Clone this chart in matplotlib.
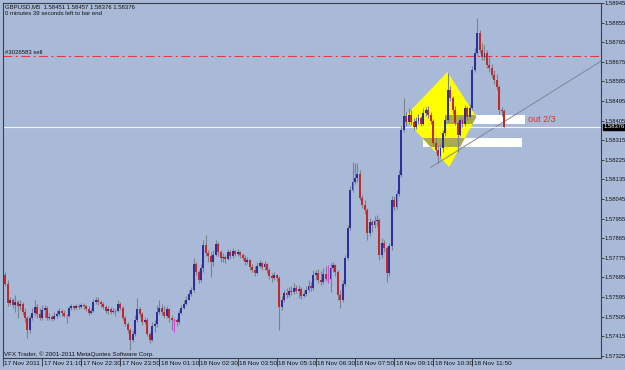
import matplotlib
matplotlib.use("Agg")
import matplotlib.pyplot as plt
from matplotlib.patches import Polygon, Rectangle
from matplotlib import transforms as mtrans

# ---------------- data ----------------
header_line1 = "GBPUSD,M5  1.58451 1.58457 1.58376 1.58376"
header_line2 = "0 minutes 39 seconds left to bar end"
order_label = "#3026583 sell"
copyright_text = "VFX Trader, \u00a9 2001-2011 MetaQuotes Software Corp."
out_label = "out 2/3"

opens = [
 1.57696,1.57655,1.57568,1.57581,1.57558,1.57572,1.57554,1.57563,1.57526,1.57499,
 1.57444,1.57499,1.57522,1.57549,1.57517,1.57499,1.57536,1.57545,1.57499,1.57503,
 1.57494,1.57508,1.57517,1.57531,1.57522,1.57508,1.57508,1.57545,1.57554,1.57545,
 1.57554,1.57549,1.57558,1.57554,1.57540,1.57522,1.57531,1.57572,1.57581,1.57572,
 1.57563,1.57549,1.57531,1.57540,1.57526,1.57531,1.57531,1.57563,1.57545,1.57499,
 1.57471,1.57444,1.57398,1.57425,1.57490,1.57540,1.57517,1.57480,1.57490,1.57425,
 1.57398,1.57462,1.57471,1.57526,1.57545,1.57526,1.57508,1.57540,1.57499,1.57490,
 1.57490,1.57480,1.57522,1.57545,1.57563,1.57581,1.57609,1.57627,1.57747,1.57710,
 1.57673,1.57728,1.57834,1.57797,1.57783,1.57756,1.57788,1.57839,1.57802,1.57774,
 1.57779,1.57770,1.57802,1.57783,1.57806,1.57793,1.57802,1.57788,1.57774,1.57756,
 1.57765,1.57733,1.57719,1.57705,1.57738,1.57751,1.57733,1.57747,1.57719,1.57692,
 1.57682,1.57696,1.57682,1.57549,1.57581,1.57614,1.57604,1.57623,1.57618,1.57636,
 1.57623,1.57632,1.57600,1.57609,1.57627,1.57646,1.57636,1.57696,1.57705,1.57673,
 1.57664,1.57701,1.57678,1.57678,1.57728,1.57742,1.57710,1.57604,1.57581,1.57655,
 1.57774,1.57912,1.58087,1.58123,1.58141,1.58160,1.58050,1.58018,1.57995,1.57889,
 1.57940,1.57926,1.57944,1.57949,1.57788,1.57843,1.57820,1.57705,1.57829,1.58041,
 1.58009,1.58068,1.58155,1.58362,1.58426,1.58399,1.58431,1.58399,1.58376,1.58403,
 1.58417,1.58390,1.58440,1.58454,1.58431,1.58403,1.58302,1.58270,1.58243,1.58279,
 1.58348,1.58408,1.58546,1.58509,1.58454,1.58394,1.58339,1.58408,1.58390,1.58463,
 1.58422,1.58463,1.58638,1.58715,1.58807,1.58729,1.58697,1.58715,1.58661,1.58647,
 1.58615,1.58592,1.58560,1.58454,1.58451]

highs = [
 1.57710,1.57673,1.57595,1.57591,1.57604,1.57581,1.57581,1.57572,1.57545,1.57508,
 1.57513,1.57545,1.57581,1.57563,1.57545,1.57558,1.57558,1.57554,1.57522,1.57513,
 1.57526,1.57536,1.57545,1.57540,1.57536,1.57517,1.57554,1.57563,1.57558,1.57563,
 1.57563,1.57568,1.57568,1.57558,1.57554,1.57545,1.57586,1.57595,1.57595,1.57581,
 1.57572,1.57558,1.57554,1.57549,1.57545,1.57540,1.57581,1.57572,1.57554,1.57508,
 1.57480,1.57453,1.57444,1.57513,1.57591,1.57549,1.57526,1.57503,1.57499,1.57434,
 1.57480,1.57490,1.57558,1.57581,1.57563,1.57554,1.57554,1.57545,1.57513,1.57499,
 1.57499,1.57536,1.57558,1.57581,1.57600,1.57627,1.57641,1.57774,1.57756,1.57719,
 1.57747,1.57857,1.57880,1.57811,1.57802,1.57811,1.57857,1.57848,1.57811,1.57797,
 1.57788,1.57815,1.57811,1.57820,1.57811,1.57815,1.57806,1.57797,1.57788,1.57779,
 1.57770,1.57747,1.57738,1.57756,1.57765,1.57756,1.57760,1.57751,1.57728,1.57705,
 1.57710,1.57701,1.57692,1.57600,1.57627,1.57636,1.57641,1.57646,1.57659,1.57650,
 1.57650,1.57641,1.57627,1.57646,1.57673,1.57664,1.57719,1.57719,1.57724,1.57715,
 1.57728,1.57738,1.57742,1.57751,1.57756,1.57747,1.57719,1.57627,1.57673,1.57788,
 1.57926,1.58105,1.58215,1.58211,1.58211,1.58178,1.58064,1.58041,1.58004,1.57958,
 1.57949,1.57967,1.57972,1.57958,1.57866,1.57857,1.57829,1.57843,1.58059,1.58059,
 1.58087,1.58178,1.58380,1.58509,1.58445,1.58463,1.58454,1.58417,1.58422,1.58436,
 1.58426,1.58463,1.58468,1.58472,1.58445,1.58413,1.58325,1.58293,1.58298,1.58362,
 1.58422,1.58624,1.58564,1.58518,1.58472,1.58403,1.58422,1.58417,1.58477,1.58472,
 1.58482,1.58656,1.58738,1.58876,1.58821,1.58761,1.58752,1.58729,1.58697,1.58665,
 1.58638,1.58619,1.58569,1.58468,1.58457]

lows = [
 1.57646,1.57554,1.57558,1.57545,1.57526,1.57499,1.57536,1.57513,1.57480,1.57407,
 1.57430,1.57490,1.57508,1.57499,1.57490,1.57490,1.57503,1.57490,1.57490,1.57485,
 1.57490,1.57499,1.57508,1.57508,1.57503,1.57476,1.57503,1.57536,1.57536,1.57540,
 1.57540,1.57545,1.57540,1.57531,1.57513,1.57517,1.57526,1.57563,1.57558,1.57549,
 1.57540,1.57522,1.57517,1.57517,1.57522,1.57508,1.57526,1.57536,1.57490,1.57462,
 1.57430,1.57352,1.57389,1.57416,1.57480,1.57503,1.57467,1.57471,1.57416,1.57384,
 1.57393,1.57434,1.57457,1.57517,1.57513,1.57499,1.57499,1.57480,1.57444,1.57434,
 1.57462,1.57471,1.57517,1.57540,1.57558,1.57581,1.57600,1.57618,1.57696,1.57659,
 1.57664,1.57710,1.57783,1.57756,1.57687,1.57738,1.57783,1.57783,1.57756,1.57756,
 1.57751,1.57765,1.57770,1.57774,1.57783,1.57783,1.57774,1.57765,1.57742,1.57747,
 1.57719,1.57710,1.57692,1.57701,1.57728,1.57719,1.57719,1.57705,1.57678,1.57664,
 1.57673,1.57669,1.57444,1.57536,1.57572,1.57591,1.57595,1.57604,1.57609,1.57614,
 1.57591,1.57586,1.57595,1.57600,1.57618,1.57623,1.57627,1.57673,1.57659,1.57650,
 1.57655,1.57669,1.57659,1.57618,1.57710,1.57692,1.57581,1.57545,1.57572,1.57646,
 1.57765,1.57903,1.58077,1.58114,1.58123,1.58041,1.58004,1.57976,1.57857,1.57875,
 1.57894,1.57912,1.57921,1.57765,1.57774,1.57802,1.57664,1.57692,1.57811,1.57995,
 1.58000,1.58059,1.58146,1.58353,1.58380,1.58390,1.58385,1.58362,1.58367,1.58390,
 1.58380,1.58385,1.58426,1.58417,1.58390,1.58289,1.58256,1.58211,1.58234,1.58261,
 1.58334,1.58399,1.58495,1.58436,1.58385,1.58261,1.58334,1.58376,1.58380,1.58408,
 1.58413,1.58454,1.58628,1.58706,1.58715,1.58683,1.58683,1.58647,1.58628,1.58601,
 1.58573,1.58546,1.58436,1.58426,1.58376]

closes = [
 1.57655,1.57568,1.57581,1.57558,1.57572,1.57554,1.57563,1.57526,1.57499,1.57444,
 1.57499,1.57522,1.57549,1.57517,1.57499,1.57536,1.57545,1.57499,1.57503,1.57494,
 1.57508,1.57517,1.57531,1.57522,1.57508,1.57508,1.57545,1.57554,1.57545,1.57554,
 1.57549,1.57558,1.57554,1.57540,1.57522,1.57531,1.57572,1.57581,1.57572,1.57563,
 1.57549,1.57531,1.57540,1.57526,1.57531,1.57531,1.57563,1.57545,1.57499,1.57471,
 1.57444,1.57398,1.57425,1.57490,1.57540,1.57517,1.57480,1.57490,1.57425,1.57398,
 1.57462,1.57471,1.57526,1.57545,1.57526,1.57508,1.57540,1.57499,1.57490,1.57490,
 1.57480,1.57522,1.57545,1.57563,1.57581,1.57609,1.57627,1.57747,1.57710,1.57673,
 1.57728,1.57834,1.57797,1.57783,1.57756,1.57788,1.57839,1.57802,1.57774,1.57779,
 1.57770,1.57802,1.57783,1.57806,1.57793,1.57802,1.57788,1.57774,1.57756,1.57765,
 1.57733,1.57719,1.57705,1.57738,1.57751,1.57733,1.57747,1.57719,1.57692,1.57682,
 1.57696,1.57682,1.57549,1.57581,1.57614,1.57604,1.57623,1.57618,1.57636,1.57623,
 1.57632,1.57600,1.57609,1.57627,1.57646,1.57636,1.57696,1.57705,1.57673,1.57664,
 1.57701,1.57678,1.57678,1.57728,1.57742,1.57710,1.57604,1.57581,1.57655,1.57774,
 1.57912,1.58087,1.58123,1.58141,1.58160,1.58050,1.58018,1.57995,1.57889,1.57940,
 1.57926,1.57944,1.57949,1.57788,1.57843,1.57820,1.57705,1.57829,1.58041,1.58009,
 1.58068,1.58155,1.58362,1.58426,1.58399,1.58431,1.58399,1.58376,1.58403,1.58417,
 1.58390,1.58440,1.58454,1.58431,1.58403,1.58302,1.58270,1.58243,1.58279,1.58348,
 1.58408,1.58546,1.58509,1.58454,1.58394,1.58339,1.58408,1.58390,1.58463,1.58422,
 1.58463,1.58638,1.58715,1.58807,1.58729,1.58697,1.58715,1.58661,1.58647,1.58615,
 1.58592,1.58560,1.58454,1.58451,1.58376]

y_ticks = [1.58945, 1.58855, 1.58765, 1.58675, 1.58585, 1.58495, 1.58405,
           1.58315, 1.58225, 1.58135, 1.58045, 1.57955, 1.57865, 1.57775,
           1.57685, 1.57595, 1.57505, 1.57415, 1.57325]
time_tick_bars = [0, 16, 32, 48, 64, 80, 96, 112, 128, 144, 160, 176, 192]
time_labels = ["17 Nov 2011", "17 Nov 21:10", "17 Nov 22:30", "17 Nov 23:50",
               "18 Nov 01:10", "18 Nov 02:30", "18 Nov 03:50", "18 Nov 05:10",
               "18 Nov 06:30", "18 Nov 07:50", "18 Nov 09:10", "18 Nov 10:30",
               "18 Nov 11:50"]

bid_price = 1.58376
sell_price = 1.58700
trend_bars = [174, 244]
trend_prices = [1.58190, 1.58680]
diamond_bars = [162.9, 180.8, 192.7, 181.6]
diamond_prices = [1.58417, 1.58628, 1.58422, 1.58192]
rect_upper = (180.0, 212.7, 1.58390, 1.58431)   # bar from, bar to, price low, price high
rect_lower = (171.0, 211.4, 1.58284, 1.58325)
out_label_pos = (213.6, 1.58412)

# ---------------- style ----------------
BG = "#a9bad8"
BULL = "#2f2f9c"
BEAR = "#c22a2a"
DOJI = "#e040e8"
WICK = "#7c818c"
TXT = "#141414"
plt.rcParams["font.family"] = ["Liberation Sans", "DejaVu Sans"]
FS = 4.6

W, H = 625, 370
fig = plt.figure(figsize=(W / 100, H / 100), dpi=100)
fig.patch.set_facecolor(BG)
ax = fig.add_axes([3 / W, 12 / H, 598 / W, 355 / H])
ax.set_facecolor(BG)
ax.set_xlim(-0.41, 243.67)
ax.set_ylim(1.57315, 1.58945)

# background objects
diamond = Polygon(list(zip(diamond_bars, diamond_prices)), closed=True,
                  facecolor="#ffff00", edgecolor="none", zorder=1)
ax.add_patch(diamond)
for (b0, b1, p0, p1) in (rect_upper, rect_lower):
    ax.add_patch(Rectangle((b0, p0), b1 - b0, p1 - p0, facecolor="white",
                           edgecolor="none", zorder=1.2))
    olive = Rectangle((b0, p0), b1 - b0, p1 - p0, facecolor="#a9aa4a",
                      edgecolor="none", zorder=1.3)
    ax.add_patch(olive)
    olive.set_clip_path(diamond)

ax.plot(trend_bars, trend_prices, color="#7f8796", lw=0.7, zorder=1.5)
ax.axhline(sell_price, color="#e0403a", lw=0.8, dashes=(8, 3, 2, 3), zorder=1.5)
ax.axhline(bid_price, color="#f2f2f2", lw=0.8, zorder=1.6)

# candles
n = len(closes)
for i in range(n):
    o, h, l, c = opens[i], highs[i], lows[i], closes[i]
    if o == c:
        ax.vlines(i, l, h, color=DOJI, lw=0.8, zorder=3)
        ax.hlines(o, i - 0.4, i + 0.4, color=DOJI, lw=0.8, zorder=3)
        continue
    ax.vlines(i, l, h, color=WICK, lw=0.8, zorder=2.8)
    col = BULL if c > o else BEAR
    lo_b = min(o, c)
    hgt = max(abs(c - o), 0.00003)
    ax.bar(i, hgt, bottom=lo_b, width=0.8, color=col, edgecolor="none", zorder=3)

# axes look
for s in ax.spines.values():
    s.set_color("#3a3f4a")
    s.set_linewidth(0.8)
ax.yaxis.tick_right()
ax.set_yticks(y_ticks)
ax.set_yticklabels([f"{v:.5f}" for v in y_ticks])
ax.tick_params(axis="y", direction="out", length=2, width=0.6, colors="#303030",
               labelsize=4.2, pad=0.8, labelcolor=TXT)
ax.set_xticks([b - 1.0 for b in time_tick_bars])
ax.set_xticklabels([])
ax.tick_params(axis="x", direction="out", length=6, width=0.6, colors="#303030")
blend = mtrans.blended_transform_factory(ax.transData, ax.transAxes)
for b, lab in zip(time_tick_bars, time_labels):
    tr = mtrans.offset_copy(blend, fig=fig, x=1.5, y=-3, units="dots")
    ax.text(b - 1.0, 0, lab, transform=tr, ha="left", va="top", fontsize=FS,
            color=TXT, clip_on=False)

# price box on the axis
bt = mtrans.offset_copy(mtrans.blended_transform_factory(ax.transAxes, ax.transData),
                        fig=fig, x=3, y=0, units="dots")
ax.text(1.0, bid_price, f"{bid_price:.5f}", transform=bt, ha="left", va="center",
        fontsize=4.2, color="white", clip_on=False, zorder=5,
        bbox=dict(boxstyle="square,pad=0.12", facecolor="black", edgecolor="black"))

# texts
fig.text(5 / W, 1 - 6.5 / H, header_line1, fontsize=4.3, color=TXT, va="center", ha="left")
fig.text(5 / W, 1 - 13.5 / H, header_line2, fontsize=4.3, color=TXT, va="center", ha="left")
fig.text(5 / W, 1 - 52 / H, order_label, fontsize=4.3, color=TXT, va="center", ha="left")
fig.text(4 / W, 1 - 354 / H, copyright_text, fontsize=4.5, color=TXT, va="center", ha="left")
ax.text(out_label_pos[0], out_label_pos[1], out_label, fontsize=6.5, color="#e03030",
        ha="left", va="center", zorder=4)

fig.savefig("out.png", dpi=100, facecolor=BG)
